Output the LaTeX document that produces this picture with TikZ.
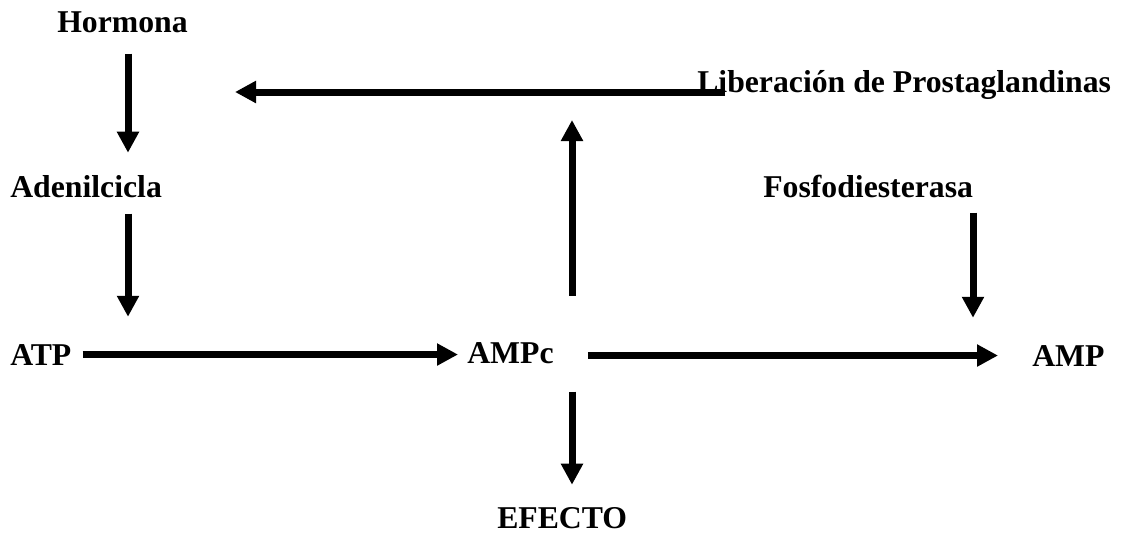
\documentclass[tikz,border=0pt]{standalone}
\usepackage{fontspec}
\setmainfont{Liberation Serif}
\usepackage{tikz}
\usetikzlibrary{arrows.meta,calc}

\tikzset{
    etiqueta/.style={inner sep=0pt, anchor=base west, font=\bfseries\fontsize{23.8pt}{28pt}\selectfont},
    flecha/.style={line width=5.25pt, -{Triangle[width=15.75pt,length=15.75pt]}}
}

\begin{document}
\begin{tikzpicture}[x=0.75pt, y=-0.75pt]
        \useasboundingbox (0,0) rectangle (1122,533);

        % ejes de las flechas verticales
        \coordinate (ejeizq) at (128,0);
        \coordinate (cruce) at (572,92);
        \coordinate (ejeder) at (973,0);
        \coordinate (retro) at (235,92);

        % Textos
        \node (hormona) at (57,32) [etiqueta] {Hormona};
        \node (adenil) at (10,197) [etiqueta] {Adenilcicla};
        \node (atp) at (10,365) [etiqueta] {ATP};
        \node (ampc) at (467,363) [etiqueta] {AMPc};
        \node (amp) at (1032,366) [etiqueta] {AMP};
        \node (efecto) at (497,528) [etiqueta] {EFECTO};
        \node (libera) at (697,92) [etiqueta] {Liberación de Prostaglandinas};
        \node (fosfo) at (763,197) [etiqueta] {Fosfodiesterasa};

        % Cadena de la izquierda
        \draw[flecha, shorten <=15.75pt, shorten >=16.5pt] (hormona.south -| ejeizq) -- (adenil.north -| ejeizq);
        \draw[flecha, shorten <=12pt, shorten >=20.25pt] (adenil.south -| ejeizq) -- (atp.north -| ejeizq);

        % Fila central
        \draw[flecha, shorten <=8.25pt, shorten >=6.75pt] (atp.east) -- (atp.east -| ampc.west);
        \draw[flecha, shorten <=25.5pt, shorten >=25.5pt] (amp.west -| ampc.east) -- (amp.west);

        % AMPc hacia arriba y hacia abajo
        \draw[flecha, shorten <=34.5pt, shorten >=21pt] (ampc.north -| cruce) -- (cruce);
        \draw[flecha, shorten <=21pt, shorten >=16.5pt] (ampc.south -| cruce) -- (efecto.north -| cruce);

        % Liberacion de prostaglandinas
        \draw[flecha] ($(libera.base west)+(28,0)$) -- (retro);

        % Fosfodiesterasa
        \draw[flecha, shorten <=11.25pt, shorten >=20.25pt] (fosfo.south -| ejeder) -- (amp.north -| ejeder);
    \end{tikzpicture}
\end{document}
